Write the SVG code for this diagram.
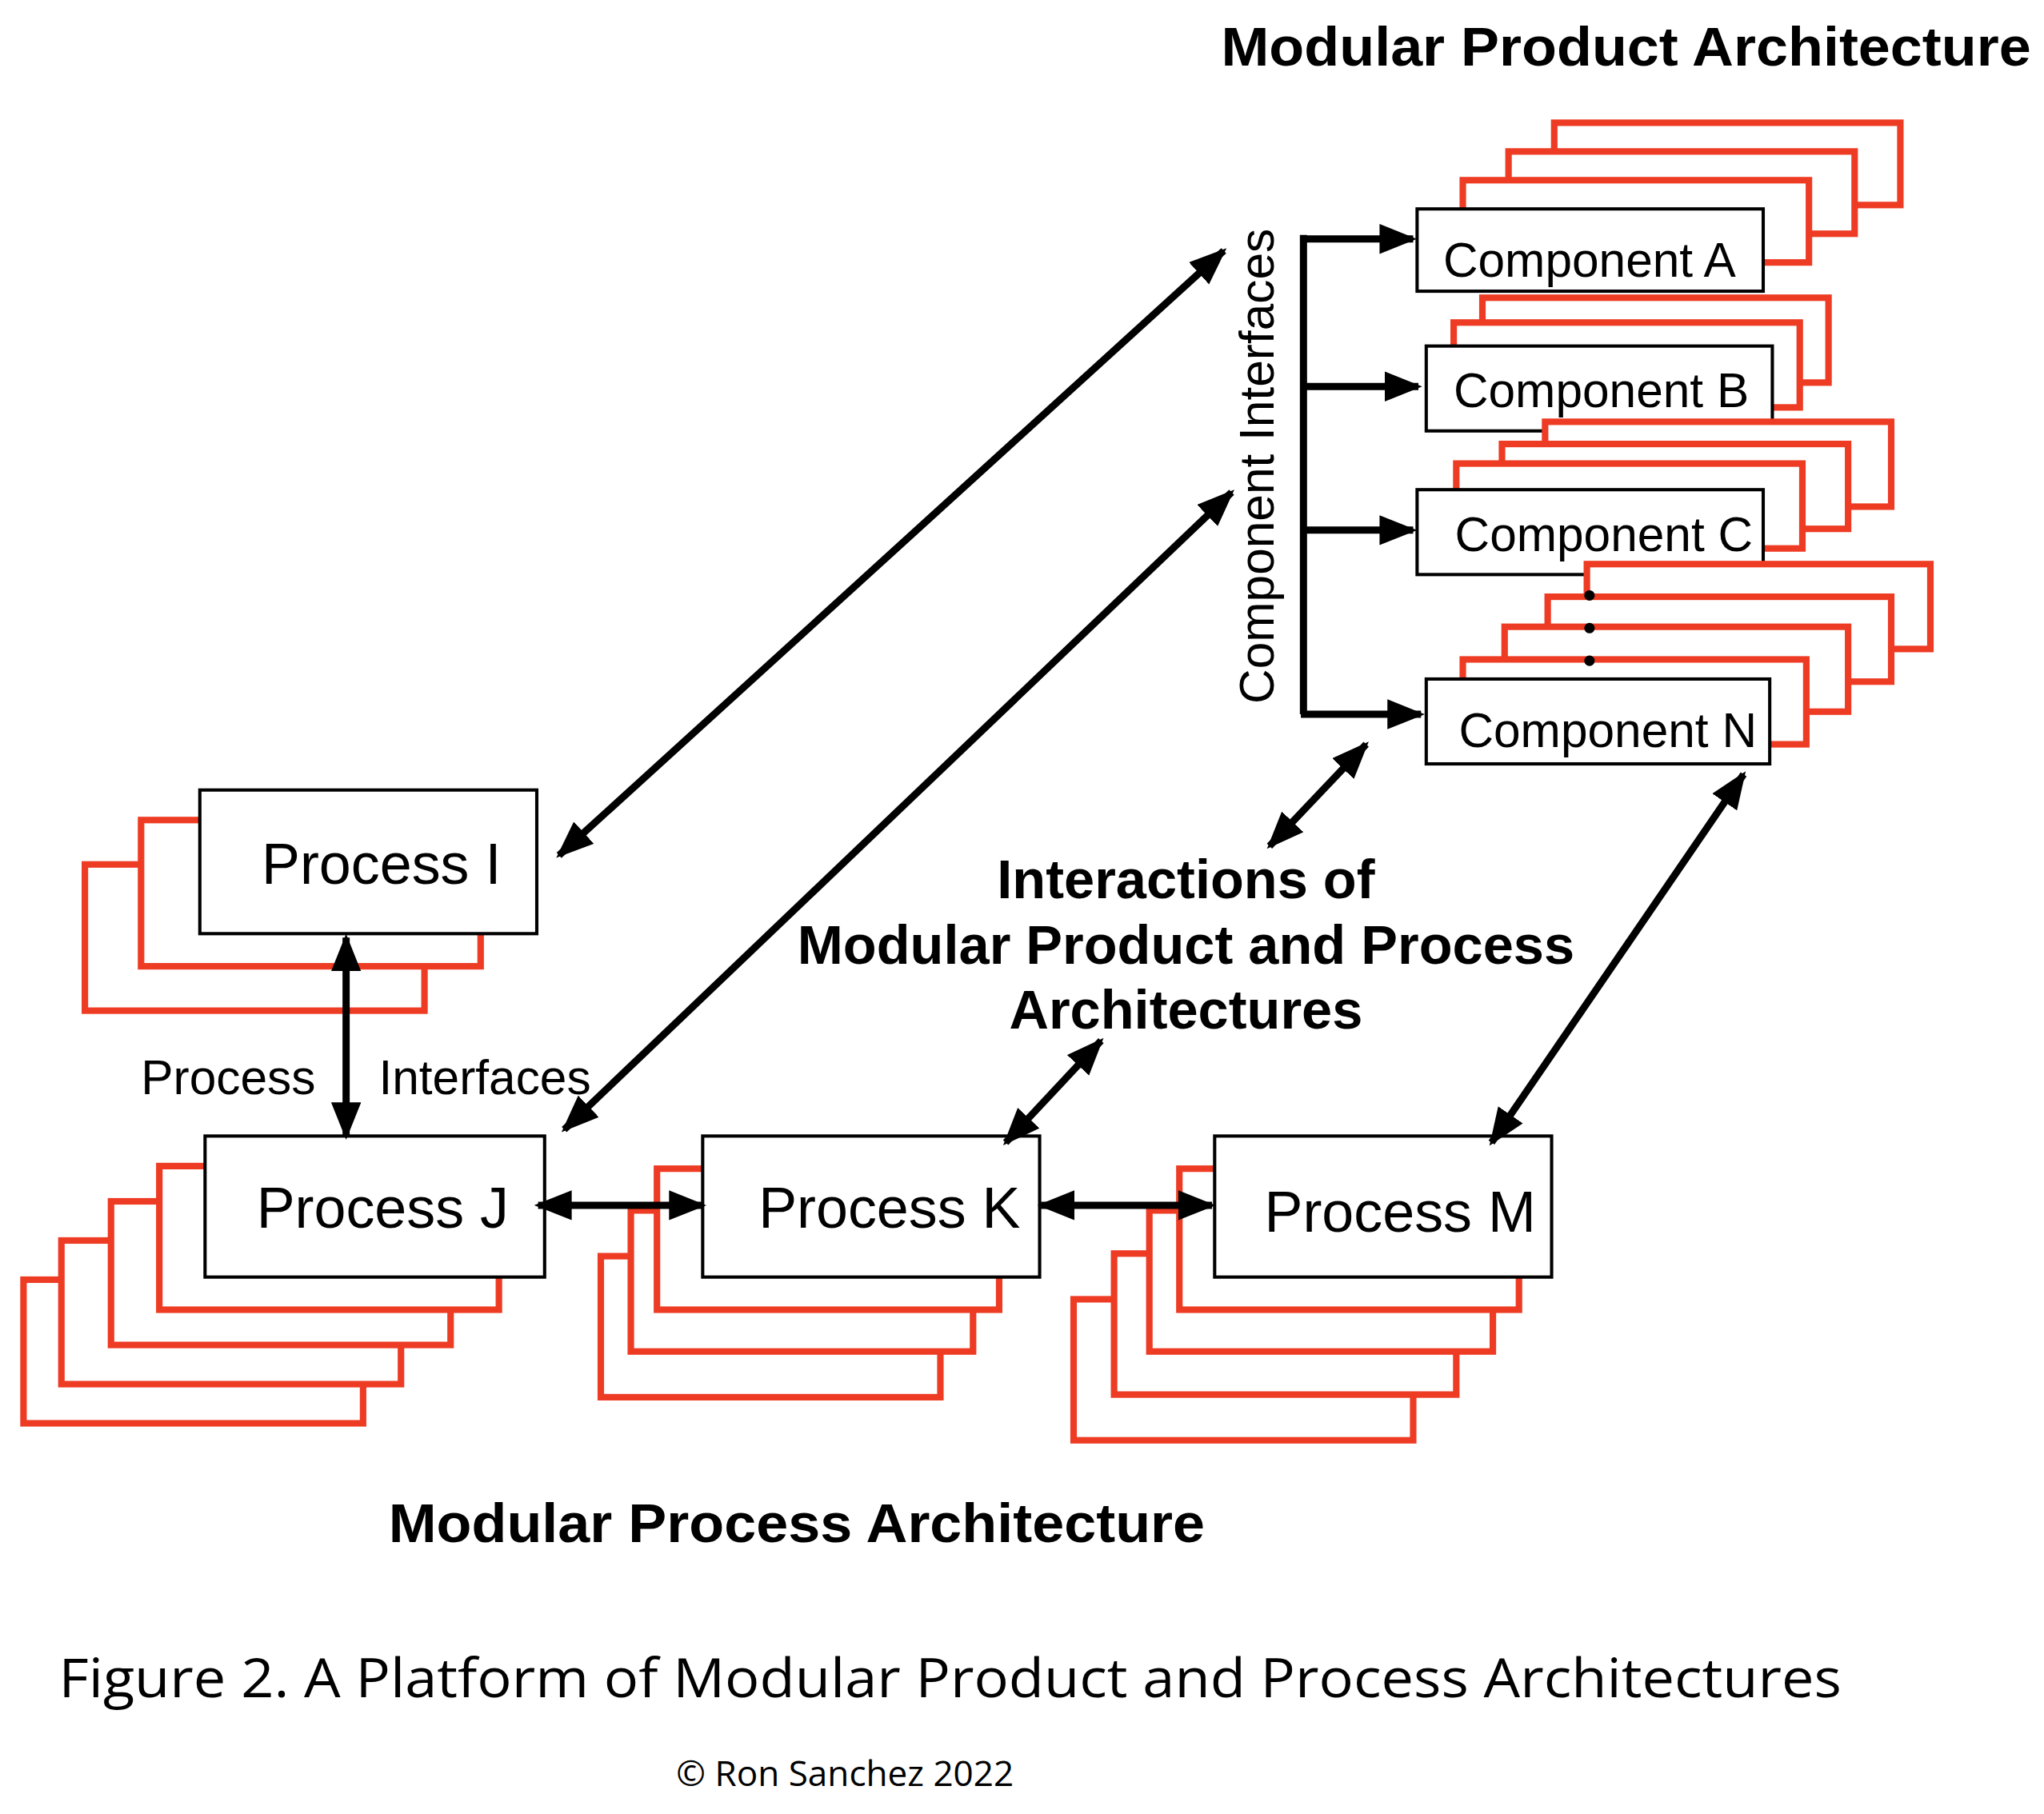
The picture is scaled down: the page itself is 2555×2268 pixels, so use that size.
<svg xmlns="http://www.w3.org/2000/svg" width="2555" height="2268" viewBox="0 0 2555 2268">
<defs>
<style>
.red{fill:#fff;stroke:#ee3b24;stroke-width:5}
.box{fill:#fff;stroke:#000;stroke-width:2.5}
.ln{stroke:#000;stroke-width:5.5;fill:none}
.lbl{font-family:"Liberation Sans",Arial,sans-serif;font-size:44px;fill:#000}
.cl{font-family:"Liberation Sans",Arial,sans-serif;font-size:37px;fill:#000}
.b{font-family:"Liberation Sans",Arial,sans-serif;font-weight:bold;font-size:42px;fill:#000}
.cap{font-family:"Open Sans","Liberation Sans",sans-serif;fill:#000}
</style>
<marker id="ah" viewBox="0 0 10 8" refX="9" refY="4" markerWidth="5.2" markerHeight="4.2" orient="auto-start-reverse" markerUnits="strokeWidth"><path d="M0,0L10,4L0,8z" fill="#000"/></marker>
</defs>
<rect width="2555" height="2268" fill="#fff"/>
<g transform="scale(1.6326)">
<text class="b" x="1245" y="50" text-anchor="middle" textLength="620" lengthAdjust="spacingAndGlyphs">Modular Product Architecture</text>

<g id="compA">
<rect class="red" x="1190" y="94" width="265" height="63"/>
<rect class="red" x="1155" y="116" width="265" height="63"/>
<rect class="red" x="1120" y="138" width="265" height="63"/>
<rect class="box" x="1085" y="160" width="265" height="63"/>
<text class="cl" x="1217" y="212" text-anchor="middle">Component A</text>
</g>
<g id="compB">
<rect class="red" x="1135" y="228" width="265" height="65"/>
<rect class="red" x="1113" y="247" width="265" height="65"/>
<rect class="box" x="1092" y="265" width="265" height="65"/>
<text class="cl" x="1226" y="312" text-anchor="middle">Component B</text>
</g>
<g id="compC">
<rect class="red" x="1183" y="323" width="265" height="65"/>
<rect class="red" x="1150" y="340" width="265" height="65"/>
<rect class="red" x="1115" y="355" width="265" height="65"/>
<rect class="box" x="1085" y="375" width="265" height="65"/>
<text class="cl" x="1228" y="422" text-anchor="middle">Component C</text>
</g>
<g id="compN">
<rect class="red" x="1215" y="432" width="263" height="65"/>
<rect class="red" x="1185" y="457" width="263" height="65"/>
<rect class="red" x="1152" y="480" width="263" height="65"/>
<rect class="red" x="1120" y="505" width="263" height="65"/>
<rect class="box" x="1092" y="520" width="263" height="65"/>
<text class="cl" x="1231" y="572" text-anchor="middle">Component N</text>
</g>
<g id="dots" fill="#000"><circle cx="1217" cy="456" r="4"/><circle cx="1217" cy="481" r="4"/><circle cx="1217" cy="506" r="4"/></g>

<g id="procI">
<rect class="red" x="65" y="662" width="260" height="112"/>
<rect class="red" x="108" y="628" width="260" height="112"/>
<rect class="box" x="153" y="605" width="258" height="110"/>
<text class="lbl" x="292" y="677" text-anchor="middle">Process I</text>
</g>
<g id="procJ">
<rect class="red" x="18" y="980" width="260" height="110"/>
<rect class="red" x="47" y="950" width="260" height="110"/>
<rect class="red" x="85" y="920" width="260" height="110"/>
<rect class="red" x="122" y="893" width="260" height="110"/>
<rect class="box" x="157" y="870" width="260" height="108"/>
<text class="lbl" x="293" y="940" text-anchor="middle">Process J</text>
</g>
<g id="procK">
<rect class="red" x="460" y="962" width="260" height="108"/>
<rect class="red" x="483" y="927" width="262" height="108"/>
<rect class="red" x="503" y="895" width="262" height="108"/>
<rect class="box" x="538" y="870" width="258" height="108"/>
<text class="lbl" x="681" y="940" text-anchor="middle">Process K</text>
</g>
<g id="procM">
<rect class="red" x="822" y="995" width="260" height="108"/>
<rect class="red" x="853" y="960" width="262" height="108"/>
<rect class="red" x="880" y="927" width="263" height="108"/>
<rect class="red" x="903" y="895" width="260" height="108"/>
<rect class="box" x="930" y="870" width="258" height="108"/>
<text class="lbl" x="1072" y="943" text-anchor="middle">Process M</text>
</g>

<g id="connectors">
<path class="ln" d="M998,180V547"/>
<line class="ln" x1="996" y1="183" x2="1082" y2="183" marker-end="url(#ah)"/>
<line class="ln" x1="996" y1="296" x2="1086" y2="296" marker-end="url(#ah)"/>
<line class="ln" x1="996" y1="406" x2="1082" y2="406" marker-end="url(#ah)"/>
<line class="ln" x1="996" y1="547" x2="1088" y2="547" marker-end="url(#ah)"/>
<line class="ln" x1="428" y1="655" x2="937" y2="192" marker-start="url(#ah)" marker-end="url(#ah)"/>
<line class="ln" x1="432" y1="865" x2="943" y2="377" marker-start="url(#ah)" marker-end="url(#ah)"/>
<line class="ln" x1="265" y1="718" x2="265" y2="870" marker-start="url(#ah)" marker-end="url(#ah)"/>
<line class="ln" x1="412" y1="923" x2="538" y2="923" marker-start="url(#ah)" marker-end="url(#ah)"/>
<line class="ln" x1="797" y1="923" x2="928" y2="923" marker-start="url(#ah)" marker-end="url(#ah)"/>
<line class="ln" x1="972" y1="648" x2="1046" y2="570" marker-start="url(#ah)" marker-end="url(#ah)"/>
<line class="ln" x1="770" y1="875" x2="843" y2="797" marker-start="url(#ah)" marker-end="url(#ah)"/>
<line class="ln" x1="1142" y1="875" x2="1335" y2="593" marker-start="url(#ah)" marker-end="url(#ah)"/>
</g>

<text class="cl" transform="translate(975,357) rotate(-90)" text-anchor="middle">Component Interfaces</text>
<text class="cl" x="108" y="838">Process</text>
<text class="cl" x="290" y="838">Interfaces</text>
<text class="b" x="908" y="688" text-anchor="middle" font-size="40">Interactions of</text>
<text class="b" x="908" y="738" text-anchor="middle" font-size="40">Modular Product and Process</text>
<text class="b" x="908" y="788" text-anchor="middle" font-size="40">Architectures</text>
<text class="b" x="610" y="1181" text-anchor="middle" textLength="625" lengthAdjust="spacingAndGlyphs">Modular Process Architecture</text>
<text class="cap" x="45" y="1300" font-size="42" textLength="1365" lengthAdjust="spacingAndGlyphs">Figure 2. A Platform of Modular Product and Process Architectures</text>
<text class="cap" x="647" y="1368" font-size="27" text-anchor="middle">© Ron Sanchez 2022</text>
</g>
</svg>
